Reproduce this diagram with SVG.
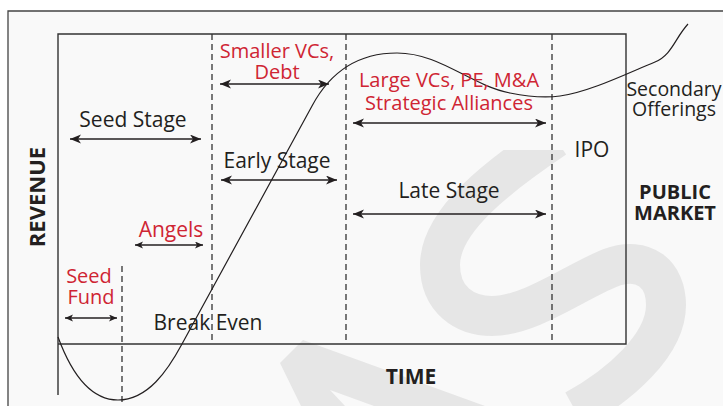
<svg xmlns="http://www.w3.org/2000/svg" width="723" height="406" viewBox="0 0 723 406">
  <style>
    .t { font-family: "Open Sans", "Noto Sans", sans-serif; font-size: 21px; fill: #231f20; text-anchor: middle; }
    .s { font-size: 20px; }
    .red { fill: #cf2533; }
    .b { font-weight: bold; }
    .frame { stroke: #444; stroke-width: 1.3; fill: none; }
    .axis { stroke: #333; stroke-width: 1.4; fill: none; }
    .dash { stroke: #333; stroke-width: 1.3; stroke-dasharray: 6 4; fill: none; }
    .arr { stroke: #231f20; stroke-width: 1.5; fill: none; marker-start: url(#ah); marker-end: url(#ah); }
    .arrs { stroke: #231f20; stroke-width: 1.3; fill: none; marker-start: url(#ahs); marker-end: url(#ahs); }
    .wm { stroke: #e6e6e6; stroke-width: 40; fill: none; }
  </style>
  <defs>
    <marker id="ah" markerUnits="userSpaceOnUse" markerWidth="12" markerHeight="10" refX="11" refY="4.5" orient="auto-start-reverse" viewBox="0 0 12 10">
      <path d="M0,0 L11,4.5 L0,9 L3,4.5 Z" fill="#231f20"/>
    </marker>
    <marker id="ahs" markerUnits="userSpaceOnUse" markerWidth="9" markerHeight="8" refX="8" refY="3.5" orient="auto-start-reverse" viewBox="0 0 9 8">
      <path d="M0,0 L8,3.5 L0,7 L2,3.5 Z" fill="#231f20"/>
    </marker>
    <clipPath id="wmclip"><rect x="0" y="150" width="723" height="256"/></clipPath>
  </defs>

  <!-- background frame -->
  <rect x="0" y="0" width="723" height="406" fill="#ffffff"/>
  <rect x="8" y="11" width="715" height="395" fill="#f9f9f9"/>
  <path class="frame" d="M8,406 L8,11 L723,11"/>

  <!-- watermark -->
  <g id="watermark">
    <path class="wm" clip-path="url(#wmclip)" d="M555,138 C500,175 440,220 440,265 C440,300 465,316 492,316 C530,316 575,282 610,268 C645,255 666,275 666,305 C666,345 620,385 575,410"/>
    <path d="M280,363 L303,340 L485,406 L374,406 L330,390 L345,406 L301,406 Z" fill="#e6e6e6"/>
  </g>

  <!-- axes and stage dividers -->
  <g id="axes">
    <path class="axis" d="M58,395 L58,34 L626,34 L626,344 L58,344"/>
    <line class="dash" x1="122" y1="266" x2="122" y2="406"/>
    <line class="dash" x1="212" y1="34" x2="212" y2="344"/>
    <line class="dash" x1="346" y1="34" x2="346" y2="344"/>
    <line class="dash" x1="552" y1="34" x2="552" y2="344"/>
  </g>

  <!-- revenue curve -->
  <g id="curve">
    <path d="M58,337 C72,375 92,400 118,400 C148,400 168,370 182,344 L312,106 C328,76 354,53 397,53 C440,53 470,85 510,93 C530,97 545,98 560,96 C590,92 630,72 655,62 C672,55 675,38 688,24" stroke="#231f20" stroke-width="1.2" fill="none"/>
  </g>

  <!-- connectors (range arrows) -->
  <g id="connectors">
    <line class="arr" x1="70" y1="139" x2="201" y2="139"/>
    <line class="arr" x1="220" y1="84" x2="329" y2="84"/>
    <line class="arr" x1="221" y1="180" x2="337" y2="180"/>
    <line class="arr" x1="353" y1="123" x2="546" y2="123"/>
    <line class="arr" x1="353" y1="214" x2="546" y2="214"/>
    <line class="arrs" x1="135" y1="245" x2="203" y2="245"/>
    <line class="arrs" x1="65" y1="318" x2="117" y2="318"/>
  </g>

  <g id="seed-stage"><text class="t" x="133" y="127">Seed Stage</text></g>
  <g id="smaller-vcs">
    <text class="t s red" x="277" y="58">Smaller VCs,</text>
    <text class="t s red" x="277" y="79">Debt</text>
  </g>
  <g id="early-stage"><text class="t" x="277" y="168">Early Stage</text></g>
  <g id="large-vcs">
    <text class="t s red" x="449" y="87">Large VCs, PE, M&amp;A</text>
    <text class="t s red" x="449" y="110">Strategic Alliances</text>
  </g>
  <g id="late-stage"><text class="t" x="449" y="198">Late Stage</text></g>
  <g id="ipo"><text class="t" x="592" y="157">IPO</text></g>
  <g id="secondary">
    <text class="t" x="674" y="96" style="font-size:19.5px">Secondary</text>
    <text class="t" x="674" y="116" style="font-size:19.5px">Offerings</text>
  </g>
  <g id="public-market">
    <text class="t s b" x="675" y="199">PUBLIC</text>
    <text class="t s b" x="675" y="220">MARKET</text>
  </g>
  <g id="revenue"><text class="t b" x="0" y="0" transform="translate(45,197) rotate(-90)" style="font-size:22px">REVENUE</text></g>
  <g id="time"><text class="t b" x="411" y="384">TIME</text></g>
  <g id="angels"><text class="t red" x="171" y="237">Angels</text></g>
  <g id="seed-fund">
    <text class="t s red" x="89" y="283">Seed</text>
    <text class="t s red" x="91" y="304">Fund</text>
  </g>
  <g id="break-even"><text class="t" x="208" y="330">Break Even</text></g>
</svg>
